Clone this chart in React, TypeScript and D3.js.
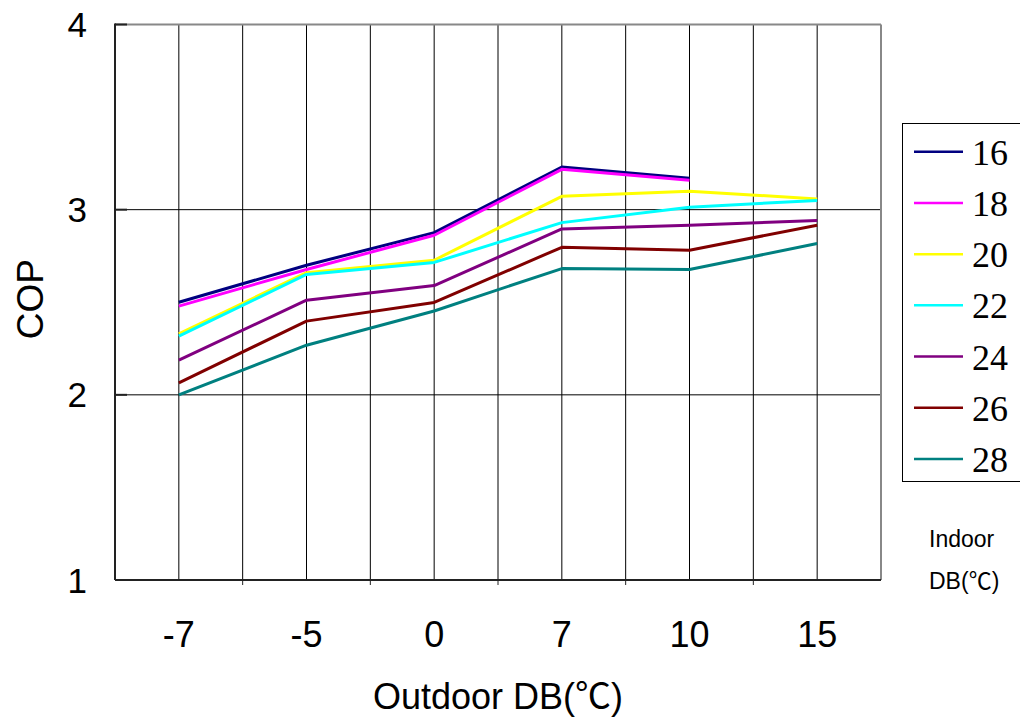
import React from "react";
import * as d3 from "d3";

const outdoorTemps = ["-7", "-5", "0", "7", "10", "15"];
const indoorTemps = ["16", "18", "20", "22", "24", "26", "28"];
const seriesColors = ["#000080", "#FF00FF", "#FFFF00", "#00FFFF", "#800080", "#800000", "#008080"];

// COP per indoor temperature, one value per outdoor temperature (null = not measured)
const cop16 = [2.5, 2.7, 2.876, 3.23, 3.17, null];
const cop18 = [2.479, 2.677, 2.862, 3.218, 3.159, null];
const cop20 = [2.33, 2.66, 2.727, 3.072, 3.1, 3.058];
const cop22 = [2.317, 2.65, 2.715, 2.93, 3.013, 3.05];
const cop24 = [2.187, 2.511, 2.59, 2.896, 2.916, 2.941];
const cop26 = [2.065, 2.398, 2.499, 2.797, 2.781, 2.916];
const cop28 = [2.0, 2.268, 2.453, 2.682, 2.677, 2.817];
const copSeries = [cop16, cop18, cop20, cop22, cop24, cop26, cop28];

const yTicks = [1, 2, 3, 4];

const W = 1020;
const H = 722;
const plot = { left: 115, right: 881, top: 24.5, bottom: 580 };
const sans = "'Liberation Sans', Arial, sans-serif";
const cjk = "'Noto Sans CJK SC', sans-serif";

export default function App() {
    const x = d3.scaleBand<string>().domain(outdoorTemps).range([plot.left, plot.right]).padding(0);
    const bw = x.bandwidth();
    const cx = (c: string) => (x(c) as number) + bw / 2;
    const y = d3.scaleLinear().domain([1, 4]).range([plot.bottom, plot.top]);

    // vertical grid at band centres and inner band edges
    const vGrid: number[] = [];
    outdoorTemps.forEach((c, i) => {
        if (i > 0) vGrid.push(x(c) as number);
        vGrid.push(cx(c));
    });

    const line = d3
        .line<number | null>()
        .defined((d) => d != null)
        .x((_, i) => cx(outdoorTemps[i]))
        .y((d) => y(d as number));

    const legend = d3.scaleLinear().domain([0, 6]).range([151.7, 459]);

    return (
        <div style={{ position: "absolute", left: 0, top: 0 }}>
            <svg width={W} height={H} style={{ display: "block", background: "#fff" }}>
                {/* grid */}
                {vGrid.map((gx, i) => (
                    <line key={"v" + i} x1={gx} x2={gx} y1={plot.top} y2={plot.bottom} stroke="#000" strokeWidth={1} />
                ))}
                {yTicks.slice(1, 3).map((t) => (
                    <line key={"h" + t} x1={plot.left} x2={plot.right} y1={y(t)} y2={y(t)} stroke="#000" strokeWidth={1} />
                ))}
                {/* frame */}
                <line x1={plot.left} x2={plot.right} y1={plot.top} y2={plot.top} stroke="#888" strokeWidth={2} />
                <line x1={plot.right} x2={plot.right} y1={plot.top} y2={plot.bottom} stroke="#888" strokeWidth={2} />
                <line x1={plot.left} x2={plot.left} y1={plot.top - 1} y2={plot.bottom} stroke="#222" strokeWidth={2} />
                <line x1={plot.left} x2={plot.right} y1={plot.bottom} y2={plot.bottom} stroke="#222" strokeWidth={2} />
                {yTicks.map((t) => (
                    <line key={"yt" + t} x1={plot.left} x2={plot.left + 12} y1={y(t)} y2={y(t)} stroke="#222" strokeWidth={2} />
                ))}
                {outdoorTemps.slice(1).map((c) => (
                    <line key={"xt" + c} x1={x(c) as number} x2={x(c) as number} y1={plot.bottom} y2={plot.bottom + 5} stroke="#222" strokeWidth={1} />
                ))}

                {/* series */}
                {copSeries.map((s, i) => (
                    <path key={"s" + i} d={line(s) || ""} fill="none" stroke={seriesColors[i]} strokeWidth={3} strokeLinejoin="round" />
                ))}

                {/* y tick labels */}
                {yTicks.map((t) => (
                    <text key={"yl" + t} x={87} y={y(t) + 12.5} textAnchor="end" fontFamily={sans} fontSize={35} fill="#000">
                        {t}
                    </text>
                ))}
                {/* x tick labels */}
                {outdoorTemps.map((c) => (
                    <text key={"xl" + c} x={cx(c)} y={647} textAnchor="middle" fontFamily={sans} fontSize={36} fill="#000">
                        {c}
                    </text>
                ))}

                <text x={(plot.left + plot.right) / 2} y={709} textAnchor="middle" fontFamily={sans} fontSize={36} fill="#000">
                    Outdoor DB(<tspan fontFamily={cjk}>℃</tspan>)
                </text>
                <text
                    transform={`translate(43,${(plot.top + plot.bottom) / 2 - 3}) rotate(-90)`}
                    textAnchor="middle"
                    fontFamily={sans}
                    fontSize={37}
                    fill="#000"
                >
                    COP
                </text>

                {/* legend */}
                <rect x={902.5} y={123.5} width={140} height={358} fill="#fff" stroke="#000" strokeWidth={1} />
                {indoorTemps.map((t, i) => (
                    <g key={"lg" + t}>
                        <line x1={914} x2={963} y1={legend(i)} y2={legend(i)} stroke={seriesColors[i]} strokeWidth={2.5} />
                        <text x={972} y={legend(i) + 13} fontFamily="'Liberation Serif', 'Times New Roman', serif" fontSize={36} fill="#000">
                            {t}
                        </text>
                    </g>
                ))}
                <text x={929} y={547} fontFamily={sans} fontSize={23} fill="#000">
                    Indoor
                </text>
                <text x={929} y={589} fontFamily={sans} fontSize={23} fill="#000">
                    DB(<tspan fontFamily={cjk}>℃</tspan>)
                </text>
            </svg>
        </div>
    );
}
